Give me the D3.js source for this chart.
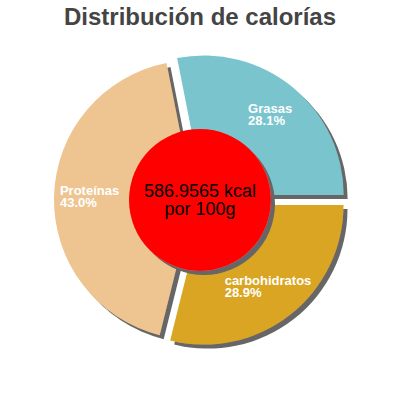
<!DOCTYPE html>
<html>
<head>
<meta charset="utf-8">
<script src="https://cdn.jsdelivr.net/npm/d3@7"></script>
<style>
  html, body { margin: 0; padding: 0; background: #fff; }
  svg { display: block; font-family: "Liberation Sans", Arial, sans-serif; }
</style>
</head>
<body>
<svg id="chart" width="400" height="400"></svg>
<script>
const title = "Distribución de calorías";
const categories = ["Grasas", "Proteínas", "carbohidratos"];
const percents = [28.1, 43.0, 28.9];
const colors = ["#7AC5CD", "#EEC591", "#DAA520"];
const centerLines = ["586.9565 kcal", "por 100g"];

const W = 400, H = 400;
const cx = 200, cy = 200;
const R = 139.5, explode = 6.5, innerR = 71, labelR = 104;

const svg = d3.select("#chart");

const defs = svg.append("defs");
const f = defs.append("filter").attr("id", "shadow")
  .attr("x", "-20%").attr("y", "-20%").attr("width", "140%").attr("height", "140%");
f.append("feDropShadow").attr("dx", 4).attr("dy", 4)
  .attr("stdDeviation", 0.6).attr("flood-color", "#666").attr("flood-opacity", 1);

svg.append("text")
  .attr("x", W / 2).attr("y", 25)
  .attr("text-anchor", "middle")
  .attr("font-size", 24).attr("font-weight", "bold")
  .attr("fill", "#444")
  .text(title);

const data = categories.map((c, i) => ({ name: c, value: percents[i], color: colors[i] }));

const pie = d3.pie().sort(null).value(d => d.value)
  .startAngle(Math.PI / 2).endAngle(Math.PI / 2 - 2 * Math.PI);
const arcs = pie(data);
const arc = d3.arc().innerRadius(0).outerRadius(R);

const g = svg.append("g").attr("transform", `translate(${cx},${cy})`);

arcs.forEach(a => {
  const mid = (a.startAngle + a.endAngle) / 2;
  const dx = Math.sin(mid) * explode, dy = -Math.cos(mid) * explode;
  g.append("path")
    .attr("d", arc(a))
    .attr("transform", `translate(${dx},${dy})`)
    .attr("fill", a.data.color)
    .attr("filter", "url(#shadow)");
});

g.append("circle").attr("r", innerR).attr("fill", "#FF0000").attr("filter", "url(#shadow)");

const ct = g.append("text").attr("text-anchor", "middle").attr("font-size", 18).attr("fill", "#000");
ct.append("tspan").attr("x", 0).attr("y", -3).text(centerLines[0]);
ct.append("tspan").attr("x", 0).attr("y", 15).text(centerLines[1]);

arcs.forEach(a => {
  const mid = (a.startAngle + a.endAngle) / 2;
  const r = labelR + explode;
  const lx = Math.sin(mid) * r, ly = -Math.cos(mid) * r;
  const t = g.append("text").attr("font-size", 13).attr("font-weight", "bold").attr("fill", "#fff");
  const t1 = t.append("tspan").attr("y", ly - 2).text(a.data.name);
  const t2 = t.append("tspan").attr("y", ly + 10).text(a.data.value.toFixed(1) + "%");
  const w = Math.max(t1.node().getComputedTextLength(), t2.node().getComputedTextLength());
  t1.attr("x", lx - w / 2);
  t2.attr("x", lx - w / 2);
});
</script>
</body>
</html>
